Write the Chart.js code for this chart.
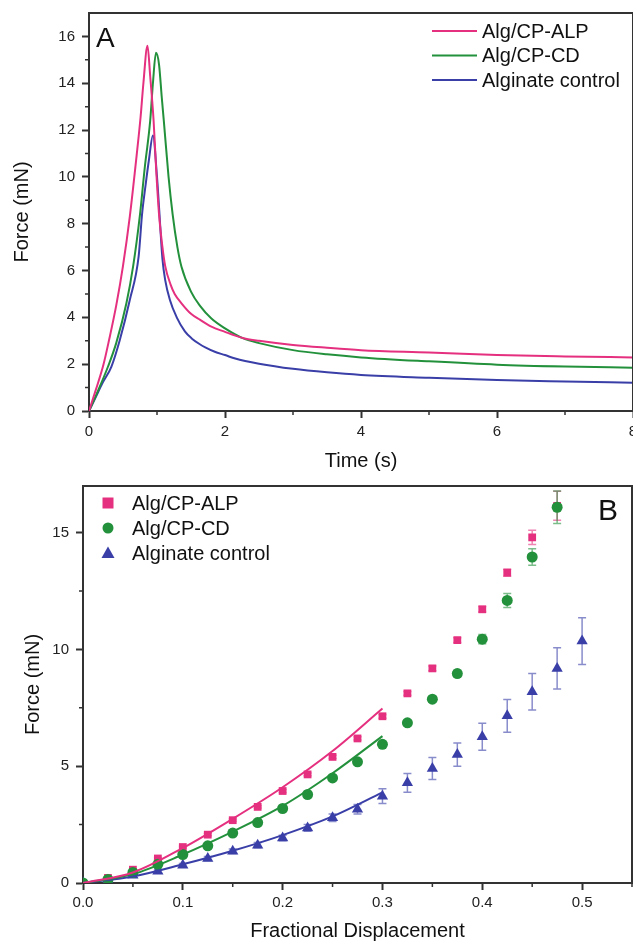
<!DOCTYPE html>
<html>
<head>
<meta charset="utf-8">
<title>Force curves</title>
<script src="https://cdn.jsdelivr.net/npm/chart.js@4.4.0/dist/chart.umd.min.js"></script>
<style>
  html, body { margin: 0; padding: 0; background: #fff; overflow: hidden; width: 633px; height: 943px; }
  #chartA { position: absolute; left: 0; top: 0; }
  #chartB { position: absolute; left: 0; top: 475px; }
</style>
</head>
<body>
<canvas id="chartA" width="641" height="478"></canvas>
<canvas id="chartB" width="641" height="468"></canvas>
<script>
// ---- panel A: force vs time ----
const alpTime  = [0, 0.1, 0.21, 0.3, 0.4, 0.5, 0.6, 0.7, 0.76, 0.8, 0.86, 0.9, 0.95, 0.99, 1.03, 1.08, 1.12, 1.2, 1.26, 1.36, 1.5, 1.63, 1.8, 2.0, 2.15, 2.29, 2.5, 3.0, 3.5, 4.0, 5.0, 6.0, 7.0, 8.0];
const alpForce = [0, 0.9, 1.95, 3.1, 4.5, 6.2, 8.3, 10.9, 12.6, 14.0, 15.6, 14.3, 12.4, 10.2, 8.4, 7.0, 6.2, 5.4, 5.0, 4.6, 4.15, 3.9, 3.6, 3.38, 3.22, 3.1, 3.0, 2.82, 2.7, 2.6, 2.5, 2.39, 2.33, 2.29];

const cdTime  = [0, 0.1, 0.28, 0.4, 0.55, 0.65, 0.75, 0.82, 0.9, 0.94, 0.985, 1.03, 1.07, 1.1, 1.17, 1.23, 1.3, 1.36, 1.5, 1.63, 1.8, 2.0, 2.27, 2.5, 3.0, 3.5, 4.0, 5.0, 6.0, 7.0, 8.0];
const cdForce = [0, 0.65, 1.9, 2.9, 4.6, 6.2, 8.4, 10.4, 12.4, 14.0, 15.3, 14.8, 13.4, 12.4, 10.0, 8.4, 7.0, 6.16, 5.1, 4.5, 3.95, 3.53, 3.1, 2.9, 2.6, 2.42, 2.29, 2.12, 1.98, 1.9, 1.85];

const ctrlTime  = [0, 0.1, 0.2, 0.33, 0.45, 0.6, 0.73, 0.78, 0.83, 0.88, 0.94, 1.0, 1.03, 1.08, 1.12, 1.19, 1.29, 1.41, 1.51, 1.63, 1.71, 1.85, 2.0, 2.15, 2.5, 3.0, 3.5, 4.0, 5.0, 6.0, 7.0, 8.0];
const ctrlForce = [0, 0.6, 1.2, 1.9, 3.0, 4.74, 6.6, 8.4, 9.6, 10.7, 11.77, 10.0, 8.7, 6.5, 5.6, 4.74, 4.0, 3.4, 3.1, 2.85, 2.72, 2.53, 2.39, 2.24, 2.02, 1.8, 1.65, 1.54, 1.42, 1.32, 1.26, 1.21];

// ---- panel B: force vs fractional displacement ----
const alpDisp  = [0, 0.025, 0.05, 0.075, 0.1, 0.125, 0.15, 0.175, 0.2, 0.225, 0.25, 0.275, 0.3, 0.325, 0.35, 0.375, 0.4, 0.425, 0.45, 0.475];
const alpMean  = [0, 0.22, 0.57, 1.05, 1.54, 2.07, 2.69, 3.26, 3.94, 4.65, 5.4, 6.19, 7.14, 8.12, 9.19, 10.4, 11.72, 13.29, 14.8, 16.15];
const alpErr   = [0, 0.03, 0.03, 0.04, 0.04, 0.05, 0.05, 0.05, 0.06, 0.06, 0.07, 0.07, 0.08, 0.08, 0.1, 0.1, 0.12, 0.15, 0.3, 0.62];

const cdDisp  = [0, 0.025, 0.05, 0.075, 0.1, 0.125, 0.15, 0.175, 0.2, 0.225, 0.25, 0.275, 0.3, 0.325, 0.35, 0.375, 0.4, 0.425, 0.45, 0.475];
const cdMean  = [0, 0.15, 0.45, 0.8, 1.22, 1.59, 2.14, 2.59, 3.19, 3.79, 4.5, 5.19, 5.94, 6.86, 7.87, 8.97, 10.44, 12.1, 13.96, 16.09];
const cdErr   = [0, 0.03, 0.03, 0.04, 0.04, 0.05, 0.05, 0.06, 0.06, 0.07, 0.07, 0.08, 0.1, 0.1, 0.12, 0.14, 0.2, 0.3, 0.35, 0.7];

const ctrlDisp = [0, 0.025, 0.05, 0.075, 0.1, 0.125, 0.15, 0.175, 0.2, 0.225, 0.25, 0.275, 0.3, 0.325, 0.35, 0.375, 0.4, 0.425, 0.45, 0.475, 0.5];
const ctrlMean = [0, 0.12, 0.33, 0.5, 0.76, 1.05, 1.36, 1.62, 1.93, 2.36, 2.79, 3.16, 3.72, 4.29, 4.9, 5.5, 6.26, 7.16, 8.19, 9.19, 10.36];
const ctrlErr  = [0, 0.05, 0.06, 0.07, 0.08, 0.09, 0.1, 0.11, 0.12, 0.14, 0.16, 0.2, 0.32, 0.4, 0.47, 0.5, 0.58, 0.7, 0.78, 0.88, 1.0];

// fitted curves (0 - 0.3)
const fitDisp    = [0, 0.05, 0.1, 0.15, 0.2, 0.25, 0.3];
const alpFit     = [0, 0.45, 1.5, 2.75, 4.1, 5.65, 7.47];
const cdFit      = [0, 0.38, 1.22, 2.2, 3.3, 4.7, 6.29];
const ctrlFit    = [0, 0.28, 0.8, 1.38, 2.05, 2.85, 3.88];

const seriesNames = ['Alg/CP-ALP', 'Alg/CP-CD', 'Alginate control'];

// minor tick values
const aMinorX = [1, 3, 5, 7];
const aMinorY = [1, 3, 5, 7, 9, 11, 13, 15];
const bMinorX = [0.05, 0.15, 0.25, 0.35, 0.45, 0.55];
const bMinorY = [2.5, 7.5, 12.5];

const PINK = '#e5307f';
const GREEN = '#23913c';
const BLUE = '#3a3fa8';
const AXIS = '#333333';
const FONT = "'Liberation Sans', Arial, sans-serif";

function pts(xs, ys) {
    return xs.map((x, i) => ({ x: x, y: ys[i] }));
}

function axis(opts) {
    return {
        type: 'linear',
        position: opts.position,
        min: opts.min,
        max: opts.max,
        border: { display: true, color: AXIS, width: 2 },
        grid: { display: true, drawOnChartArea: false, drawTicks: true, tickLength: 7, tickColor: AXIS, tickWidth: 2 },
        ticks: {
            stepSize: opts.step,
            includeBounds: false,
            padding: opts.tickPad,
            color: '#222',
            font: { family: FONT, size: 15 },
            callback: opts.fmt
        },
        afterBuildTicks: (scale) => {
            scale.ticks = scale.ticks.filter(t => t.value <= opts.lastLabel + 1e-9);
        },
        afterFit: (scale) => {
            if (opts.position === 'left') scale.width = opts.size;
            else scale.height = opts.size;
            // layout padding alone decides where the plot box sits
            scale.paddingTop = 0; scale.paddingBottom = 0;
            scale.paddingLeft = 0; scale.paddingRight = 0;
        },
        title: {
            display: true,
            text: opts.title,
            color: '#111',
            font: { family: FONT, size: 20 },
            padding: opts.titlePad
        }
    };
}

// draws error bars, frame, minor ticks, panel letter and legend
const panelDecor = {
    id: 'panelDecor',
    beforeDatasetsDraw(chart, args, o) {
        const ctx = chart.ctx;
        const xs = chart.scales.x, ys = chart.scales.y;
        chart.data.datasets.forEach((ds, i) => {
            if (!ds.errorBars || !chart.isDatasetVisible(i)) return;
            ctx.save();
            ctx.strokeStyle = ds.errorColor;
            ctx.lineWidth = 1.5;
            ds.data.forEach((p, j) => {
                const e = ds.errorBars[j];
                if (!e) return;
                const px = xs.getPixelForValue(p.x);
                const top = ys.getPixelForValue(p.y + e);
                const bot = ys.getPixelForValue(p.y - e);
                ctx.beginPath();
                ctx.moveTo(px, top); ctx.lineTo(px, bot);
                ctx.moveTo(px - 4, top); ctx.lineTo(px + 4, top);
                ctx.moveTo(px - 4, bot); ctx.lineTo(px + 4, bot);
                ctx.stroke();
            });
            ctx.restore();
        });
    },
    afterDraw(chart, args, o) {
        const ctx = chart.ctx;
        const a = chart.chartArea;
        const xs = chart.scales.x, ys = chart.scales.y;
        ctx.save();
        ctx.strokeStyle = AXIS;
        ctx.lineWidth = 2;
        ctx.beginPath();
        ctx.moveTo(a.left, a.top); ctx.lineTo(a.right, a.top); ctx.lineTo(a.right, a.bottom);
        ctx.stroke();
        // minor ticks
        ctx.lineWidth = 1.5;
        ctx.beginPath();
        o.minorX.forEach(v => {
            const px = xs.getPixelForValue(v);
            ctx.moveTo(px, a.bottom); ctx.lineTo(px, a.bottom + 4);
        });
        o.minorY.forEach(v => {
            const py = ys.getPixelForValue(v);
            ctx.moveTo(a.left, py); ctx.lineTo(a.left - 4, py);
        });
        ctx.stroke();
        // panel letter
        ctx.fillStyle = '#111';
        ctx.font = o.letterSize + 'px ' + FONT;
        ctx.textBaseline = 'middle';
        ctx.textAlign = 'left';
        ctx.fillText(o.letter, o.letterX, o.letterY);
        // legend
        ctx.font = '20px ' + FONT;
        o.legend.forEach((item, i) => {
            const y = o.legendY + i * o.legendRow;
            const ds = chart.data.datasets[item];
            ctx.fillStyle = ds.borderColor;
            ctx.strokeStyle = ds.borderColor;
            if (o.legendLine) {
                ctx.lineWidth = 2;
                ctx.beginPath();
                ctx.moveTo(o.legendX, y); ctx.lineTo(o.legendX + 45, y);
                ctx.stroke();
            } else {
                const cx = o.legendX, r = 5.5;
                ctx.beginPath();
                if (ds.pointStyle === 'rect') ctx.rect(cx - r, y - r, 2 * r, 2 * r);
                else if (ds.pointStyle === 'triangle') {
                    ctx.moveTo(cx, y - 6.5); ctx.lineTo(cx + 6.5, y + 5); ctx.lineTo(cx - 6.5, y + 5); ctx.closePath();
                } else ctx.arc(cx, y, r, 0, Math.PI * 2);
                ctx.fill();
            }
            ctx.fillStyle = '#111';
            ctx.fillText(ds.label, o.legendTextX, y + 1);
        });
        ctx.restore();
    }
};

function lineSet(label, xs, ys, color, order) {
    return {
        label: label,
        data: pts(xs, ys),
        borderColor: color,
        backgroundColor: color,
        borderWidth: 2,
        pointRadius: 0,
        showLine: true,
        order: order || 0,
        cubicInterpolationMode: 'monotone'
    };
}

function markerSet(label, xs, ys, errs, color, style, radius, order) {
    return {
        label: label,
        data: pts(xs, ys),
        borderColor: color,
        backgroundColor: color,
        pointStyle: style,
        pointRadius: radius,
        pointBorderWidth: 0,
        showLine: false,
        order: order,
        errorBars: errs,
        errorColor: color + '99'
    };
}

const chartA = new Chart(document.getElementById('chartA'), {
    type: 'scatter',
    data: {
        datasets: [
            lineSet(seriesNames[0], alpTime, alpForce, PINK),
            lineSet(seriesNames[1], cdTime, cdForce, GREEN),
            lineSet(seriesNames[2], ctrlTime, ctrlForce, BLUE)
        ]
    },
    options: {
        responsive: false,
        animation: false,
        layout: { padding: { top: 13, right: 8, left: 0, bottom: 0 } },
        plugins: {
            legend: { display: false },
            tooltip: { enabled: false },
            panelDecor: {
                minorX: aMinorX, minorY: aMinorY,
                letter: 'A', letterX: 96, letterY: 39, letterSize: 28,
                legend: [0, 1, 2], legendLine: true,
                legendX: 432, legendTextX: 482, legendY: 31, legendRow: 24.5
            }
        },
        scales: {
            x: axis({ position: 'bottom', min: 0, max: 8, step: 2, lastLabel: 8, tickPad: 5, size: 67,
                      title: 'Time (s)', titlePad: { top: 0, bottom: 5 }, fmt: v => String(v) }),
            y: axis({ position: 'left', min: 0, max: 17, step: 2, lastLabel: 16, tickPad: 7, size: 89,
                      title: 'Force (mN)', titlePad: { top: 10, bottom: 0 }, fmt: v => String(v) })
        }
    },
    plugins: [panelDecor]
});

const chartB = new Chart(document.getElementById('chartB'), {
    type: 'scatter',
    data: {
        datasets: [
            markerSet(seriesNames[0], alpDisp, alpMean, alpErr, PINK, 'rect', 5.5, 2),
            markerSet(seriesNames[1], cdDisp, cdMean, cdErr, GREEN, 'circle', 5.5, 1),
            markerSet(seriesNames[2], ctrlDisp, ctrlMean, ctrlErr, BLUE, 'triangle', 6.5, 3),
            lineSet('ALP fit', fitDisp, alpFit, PINK, 0),
            lineSet('CD fit', fitDisp, cdFit, GREEN, 0),
            lineSet('control fit', fitDisp, ctrlFit, BLUE, 0)
        ]
    },
    options: {
        responsive: false,
        animation: false,
        layout: { padding: { top: 11, right: 9, left: 0, bottom: 0 } },
        plugins: {
            legend: { display: false },
            tooltip: { enabled: false },
            panelDecor: {
                minorX: bMinorX, minorY: bMinorY,
                letter: 'B', letterX: 598, letterY: 37, letterSize: 30,
                legend: [0, 1, 2], legendLine: false,
                legendX: 108, legendTextX: 132, legendY: 28, legendRow: 25
            }
        },
        scales: {
            x: axis({ position: 'bottom', min: 0, max: 0.55, step: 0.1, lastLabel: 0.5, tickPad: 4, size: 60,
                      title: 'Fractional Displacement', titlePad: { top: 0, bottom: 0 }, fmt: v => v.toFixed(1) }),
            y: axis({ position: 'left', min: 0, max: 17, step: 5, lastLabel: 15, tickPad: 7, size: 83,
                      title: 'Force (mN)', titlePad: { top: 21, bottom: 0 }, fmt: v => String(v) })
        }
    },
    plugins: [panelDecor]
});
</script>
</body>
</html>
